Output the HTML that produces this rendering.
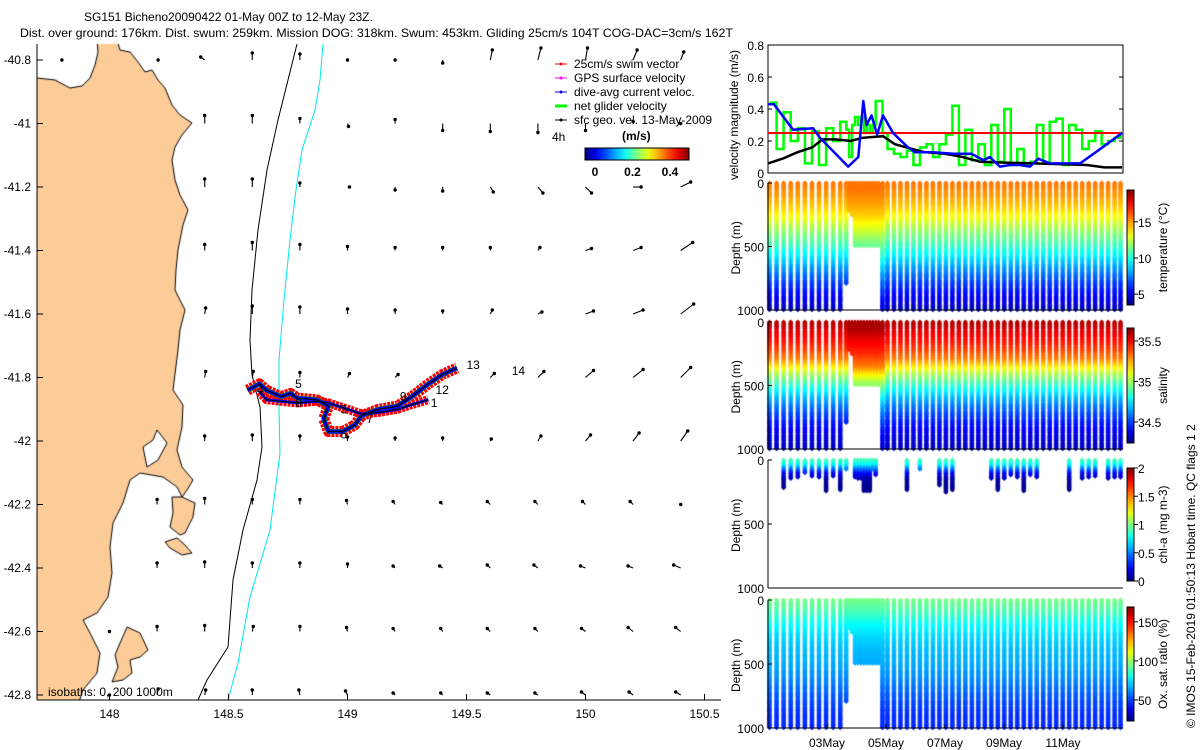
<!DOCTYPE html>
<html><head><meta charset="utf-8">
<style>
html,body{margin:0;padding:0;background:#fff;}
#wrap{position:relative;width:1200px;height:750px;overflow:hidden;font-family:"Liberation Sans",sans-serif;}
svg,canvas{position:absolute;left:0;top:0;}
text{font-family:"Liberation Sans",sans-serif;font-size:12px;fill:#000;}
</style></head>
<body>
<div id="wrap">
<canvas id="cv" width="1200" height="750"></canvas>
<svg id="sv" width="1200" height="750" xmlns="http://www.w3.org/2000/svg">
<defs><clipPath id="mc"><rect x="37" y="44" width="684" height="656"/></clipPath></defs>
<g id="mapclip" clip-path="url(#mc)">
<polyline fill="none" stroke="#000" stroke-width="1" points="297,44 288,80 278,120 267,170 258,230 252,290 250,340 252,375 260,407 262,447 257,480 243,530 233,580 228,647 207,680 198,700"/>
<polyline fill="none" stroke="#00e5ee" stroke-width="1" points="323,44 320,80 315,110 302,150 296,190 290,240 284,300 279,360 279,410 280,453 270,530 250,597 238,663 228,700"/>
<g id="arrowLayer"></g>
<g id="trackLayer"></g>
</g>
</svg>
</div>
<script>
// ---------------- DATA ----------------
const trackLon=[148.58,148.63,148.66,148.72,148.76,148.79,148.87,148.92,148.90,148.92,148.98,149.03,149.06,149.13,149.21,149.27,149.34,149.40,149.46];
const trackLat=[-41.84,-41.82,-41.84,-41.86,-41.85,-41.865,-41.87,-41.89,-41.93,-41.97,-41.97,-41.95,-41.92,-41.90,-41.89,-41.86,-41.82,-41.79,-41.77];
const track2Lon=[148.63,148.66,148.72,148.79,148.87,148.92,149.06,149.13,149.21,149.27,149.34];
const track2Lat=[-41.845,-41.87,-41.875,-41.88,-41.875,-41.88,-41.915,-41.91,-41.90,-41.885,-41.87];
const diveLabels=['1','3','4','5','6','7','8','9','12','13','14'];
const diveLabelLon=[149.35,148.97,148.62,148.78,148.97,149.08,148.78,149.22,149.37,149.50,149.69];
const diveLabelLat=[-41.88,-41.90,-41.84,-41.82,-41.98,-41.93,-41.88,-41.86,-41.84,-41.76,-41.78];
const gridLon=[147.8,148.0,148.2,148.4,148.6,148.8,149.0,149.2,149.4,149.6,149.8,150.0,150.2,150.4];
const gridLat=[-40.8,-41.0,-41.2,-41.4,-41.6,-41.8,-42.0,-42.2,-42.4,-42.6,-42.8];
const gridU=[
[0,0,0.01,-0.04,0,0,0,0,0,0.02,0.03,0.02,0.04,0.03],
[0,0,0,0,0,0,0.01,0,0,0,0,0,0,0],
[0,0,0,0,0,0,0.02,0,0,0.03,0.05,0.06,0.08,0.1],
[0,0,0,0,0,0,0,0,0,0,0.02,0.06,0.08,0.12],
[0,0,0,0.01,0,0,0,0,0,0.02,0.04,0.08,0.1,0.13],
[0,0,0,0.01,0.01,0,0.02,0.03,0.03,0.04,0.06,0.08,0.1,0.1],
[0,0,0,0,0,0,0,0,0,0.01,0.03,0.05,0.06,0.07],
[0,0,0,0,0,0,-0.01,-0.02,-0.02,-0.03,-0.03,-0.03,-0.03,0],
[0,0,0,0,0,0,0,-0.02,-0.03,-0.03,-0.04,-0.05,-0.05,-0.07],
[0,0,0,0,0.01,0,-0.01,-0.02,-0.02,-0.03,-0.03,-0.04,-0.05,-0.05],
[0,0,0.01,0.01,0,-0.01,-0.02,-0.02,-0.02,-0.03,-0.03,-0.04,-0.04,-0.05]];
const gridV=[
[0,0,0,0.03,0.07,0.06,0,0,-0.03,0.1,0.12,0.12,0.1,0.08],
[0,0,0.04,0.08,0.08,0.05,-0.03,0.04,-0.07,-0.08,-0.09,-0.07,0.02,0],
[0,0,0.05,0.08,0.08,0.04,0,-0.03,-0.04,-0.05,-0.06,-0.06,0,0.05],
[0,0,0.05,0.06,0.08,0.06,0.04,0.03,0.03,0.03,0.03,0.02,0.03,0.08],
[0,0,0.05,0.06,0.08,0.07,0.05,0.04,0.03,0.04,0.02,0.03,0.04,0.1],
[0,0,0.06,0.06,0.06,0.05,0.04,0.03,0.03,0.04,0.06,0.07,0.08,0.1],
[0,0,0.05,0.05,0.06,0.05,0.04,0.03,0.03,0.02,0.05,0.06,0.08,0.1],
[0,0,0.05,0.06,0.05,0.05,0.04,0.03,0.02,0.03,0.03,0.03,0.03,0],
[0,0,0.05,0.06,0.05,0.05,0.04,0.02,0.02,0.03,0.03,0.02,0.02,0.03],
[0,0,0.05,0.06,0.05,0.05,0.04,0.03,0.03,0.03,0.03,0.03,0.04,0.04],
[0,0,0.06,0.05,0.05,0.05,0.04,0.02,0.02,0.02,0.02,0.03,0.03,0.03]];
const swimSpeed=0.25;
const geoDay=[1.0,1.5,2.0,2.5,2.85,3.3,3.8,4.2,4.9,5.3,5.7,6.3,7.0,7.6,8.2,9.0,10.0,11.0,11.8,12.4,13.0];
const geoVal=[0.06,0.09,0.13,0.16,0.21,0.21,0.20,0.22,0.23,0.18,0.16,0.13,0.12,0.10,0.07,0.065,0.06,0.055,0.05,0.035,0.035];
const dacDay=[1.0,1.2,1.85,2.53,2.76,3.72,4.06,4.23,4.34,4.51,4.7,4.9,5.24,5.69,5.97,6.6,7.28,7.9,8.3,8.52,8.86,9.2,9.54,9.88,10.16,10.56,11.58,12.26,12.71,13.0];
const dacVal=[0.43,0.43,0.27,0.28,0.22,0.04,0.10,0.45,0.30,0.36,0.24,0.36,0.25,0.17,0.13,0.13,0.12,0.12,0.08,0.10,0.04,0.05,0.05,0.04,0.09,0.06,0.06,0.15,0.21,0.25];
const diveDay=[1.05,1.29,1.53,1.77,2.01,2.25,2.49,2.73,2.97,3.21,3.45,3.65,3.75,3.85,3.95,4.05,4.15,4.25,4.35,4.45,4.55,4.65,4.75,4.88,5.05,5.27,5.49,5.71,5.93,6.15,6.37,6.59,6.81,7.03,7.25,7.47,7.69,7.91,8.13,8.35,8.57,8.79,9.01,9.23,9.45,9.67,9.89,10.11,10.33,10.55,10.77,10.99,11.21,11.43,11.65,11.87,12.09,12.31,12.53,12.75,12.95];
const diveMaxDepth=[1000,1000,1000,1000,1000,1000,1000,1000,1000,1000,1000,800,220,260,500,500,500,500,500,500,500,500,500,1000,1000,1000,1000,1000,1000,1000,1000,1000,1000,1000,1000,1000,1000,1000,1000,1000,1000,1000,1000,1000,1000,1000,1000,1000,1000,1000,1000,1000,1000,1000,1000,1000,1000,1000,1000,1000,1000];
const netVel=[0.44,0.15,0.38,0.2,0.28,0.06,0.26,0.05,0.28,0.2,0.32,0.27,0.1,0.3,0.35,0.3,0.35,0.25,0.3,0.25,0.3,0.45,0.45,0.25,0.15,0.12,0.1,0.14,0.05,0.16,0.18,0.1,0.18,0.24,0.42,0.05,0.27,0.08,0.18,0.05,0.3,0.07,0.4,0.05,0.15,0.05,0.07,0.3,0.06,0.32,0.34,0.05,0.3,0.27,0.15,0.2,0.26,0.18,0.2,0.22,0.25];
const chlDepth=[0,0,220,150,140,100,130,140,250,130,240,80,0,0,140,150,150,250,250,250,80,120,0,0,0,0,0,240,0,80,0,0,200,260,240,0,0,0,0,0,150,240,150,120,140,250,120,140,0,0,0,0,240,0,150,140,130,0,150,140,140];
const profDepth=[0,100,200,300,400,500,600,700,800,900,1000];
const tempProf=[15.6,15.0,14.2,13.0,11.6,10.4,9.0,7.6,6.4,5.4,4.5];
const salProf=[35.6,35.5,35.42,35.3,35.05,34.85,34.68,34.55,34.45,34.38,34.33];
const oxProf=[95,88,78,72,68,66,62,57,52,48,47];
const chlProfDepth=[0,40,80,120,160,260];
const chlProf=[0.9,0.75,0.45,0.2,0.06,0.02];
const coastMain=[[30,78],[37,78],[55,80],[70,88],[82,86],[90,78],[95,65],[98,52],[97,40],[117,40],[120,50],[130,52],[138,62],[145,72],[152,70],[158,80],[165,88],[172,105],[180,115],[192,123],[182,135],[175,147],[172,160],[175,180],[180,195],[188,210],[183,225],[178,250],[176,270],[175,290],[185,310],[180,330],[178,350],[173,390],[183,405],[182,427],[177,450],[182,467],[193,480],[187,490],[182,497],[177,487],[163,477],[140,473],[130,480],[123,503],[113,523],[110,547],[112,573],[108,597],[97,613],[83,620],[90,633],[100,653],[97,673],[83,690],[78,705],[30,705]];
const coastInlet=[[157,430],[167,443],[158,460],[147,467],[143,447],[153,440]];
const coastPen=[[182,497],[195,503],[193,517],[185,533],[180,535],[170,527],[173,513],[172,497]];
const coastSch=[[165,542],[177,538],[185,545],[192,553],[182,555],[170,548]];
const coastMaria=[[127,627],[140,633],[148,650],[140,657],[130,660],[132,673],[123,680],[112,682],[118,667],[115,655],[120,643]];
// ---------------- HELPERS ----------------
const S=document.getElementById('sv');const NS='http://www.w3.org/2000/svg';
function el(tag,attrs,parent){const e=document.createElementNS(NS,tag);for(const k in attrs)e.setAttribute(k,attrs[k]);(parent||S).appendChild(e);return e;}
function txt(x,y,s,attrs,parent){const t=el('text',Object.assign({x:x,y:y},attrs||{}),parent);t.textContent=s;return t;}
function jet(v){v=Math.max(0,Math.min(1,v));const r=Math.max(0,Math.min(1,1.5-Math.abs(4*v-3))),g=Math.max(0,Math.min(1,1.5-Math.abs(4*v-2))),b=Math.max(0,Math.min(1,1.5-Math.abs(4*v-1)));return 'rgb('+Math.round(r*255)+','+Math.round(g*255)+','+Math.round(b*255)+')';}
function interp(xs,ys,x){if(x<=xs[0])return ys[0];for(let i=1;i<xs.length;i++){if(x<=xs[i]){const f=(x-xs[i-1])/(xs[i]-xs[i-1]);return ys[i-1]+f*(ys[i]-ys[i-1]);}}return ys[ys.length-1];}
const MX0=37,MX1=721,MY0=44,MY1=700;
const lonX=lon=>109.5+(lon-148)*238;
const latY=lat=>60+(-40.8-lat)*317.5;
const defs=S.querySelector('defs');
const ctx=document.getElementById('cv').getContext('2d');
// ---------------- LAND (canvas) ----------------
function polyPath(pts){const p=new Path2D();pts.forEach((q,i)=>{if(i)p.lineTo(q[0],q[1]);else p.moveTo(q[0],q[1]);});p.closePath();return p;}
const mainPath=polyPath(coastMain);
ctx.save();ctx.beginPath();ctx.rect(MX0,MY0,MX1-MX0,MY1-MY0);ctx.clip();
ctx.lineWidth=1;ctx.strokeStyle='#000';
[[coastMain,'#fccc98'],[coastInlet,'#fff'],[coastPen,'#fccc98'],[coastSch,'#fccc98'],[coastMaria,'#fccc98']].forEach(a=>{const p=polyPath(a[0]);ctx.fillStyle=a[1];ctx.fill(p);ctx.stroke(p);});
ctx.restore();
// ---------------- TITLE ----------------
let t=txt(84,21,'SG151 Bicheno20090422 01-May 00Z to 12-May 23Z.',{});
t=txt(20,37,'Dist. over ground: 176km. Dist. swum: 259km. Mission DOG: 318km. Swum: 453km. Gliding 25cm/s 104T COG-DAC=3cm/s 162T',{textLength:713,lengthAdjust:'spacingAndGlyphs'});
// ---------------- MAP ----------------
const arrows=document.getElementById('arrowLayer');
for(let r=0;r<gridLat.length;r++)for(let c=0;c<gridLon.length;c++){const x=lonX(gridLon[c]),y=latY(gridLat[r]);
if(ctx.isPointInPath(mainPath,x,y))continue;
const u=gridU[r][c],v=gridV[r][c];const x2=x+u*100,y2=y-v*100;
const a=el('g',{},arrows);


el('line',{x1:x,y1:y,x2:x2,y2:y2,stroke:'#000','stroke-width':1.1},a);el('circle',{cx:x2,cy:y2,r:1.7,fill:'#000'},a);}
function trackPts(lo,la){return lo.map((v,i)=>lonX(v).toFixed(1)+','+latY(la[i]).toFixed(1)).join(' ');}
const tg=document.getElementById('trackLayer');let p;
p=el('polyline',{points:trackPts(trackLon,trackLat),fill:'none',stroke:'#f00','stroke-width':11,'stroke-linejoin':'round','stroke-dasharray':'3 1'},tg);
p=el('polyline',{points:trackPts(track2Lon,track2Lat),fill:'none',stroke:'#f00','stroke-width':9,'stroke-linejoin':'round','stroke-dasharray':'3 1'},tg);
p=el('polyline',{points:trackPts(trackLon,trackLat),fill:'none',stroke:'#0a0','stroke-width':5,'stroke-linejoin':'round'},tg);
p=el('polyline',{points:trackPts(trackLon,trackLat),fill:'none',stroke:'#00f','stroke-width':4,'stroke-linejoin':'round'},tg);
p=el('polyline',{points:trackPts(track2Lon,track2Lat),fill:'none',stroke:'#00f','stroke-width':3,'stroke-linejoin':'round'},tg);
p=el('polyline',{points:trackPts(trackLon,trackLat),fill:'none',stroke:'#000','stroke-width':1.3},tg);
p=el('polyline',{points:trackPts(track2Lon,track2Lat),fill:'none',stroke:'#000','stroke-width':1.2},tg);
diveLabels.forEach((s,i)=>{const l=txt(lonX(diveLabelLon[i]),latY(diveLabelLat[i])+4,s,{},tg);

});
const map=el('g',{});
el('line',{x1:MX0,y1:MY0,x2:MX0,y2:MY1,stroke:'#000'},map);el('line',{x1:MX0,y1:MY1,x2:MX1,y2:MY1,stroke:'#000'},map);
const lonTicks=[148,148.5,149,149.5,150,150.5];const lonTickLabels=['148','148.5','149','149.5','150','150.5'];
lonTicks.forEach((v,i)=>{const x=lonX(v);el('line',{x1:x,y1:MY1,x2:x,y2:MY1-6,stroke:'#000'},map);const l=txt(x,718,lonTickLabels[i],{'text-anchor':'middle'},map);

});
const latTicks=[-40.8,-41,-41.2,-41.4,-41.6,-41.8,-42,-42.2,-42.4,-42.6,-42.8];const latTickLabels=['-40.8','-41','-41.2','-41.4','-41.6','-41.8','-42','-42.2','-42.4','-42.6','-42.8'];
latTicks.forEach((v,i)=>{const y=latY(v);el('line',{x1:MX0,y1:y,x2:MX0+6,y2:y,stroke:'#000'},map);const l=txt(31,y+4,latTickLabels[i],{'text-anchor':'end'},map);

});
t=txt(48,696,'isobaths: 0,  200  1000m',{});
const lg=el('g',{});
const legC=['#f00','#f0f','#00f','#0f0','#000'],legT=['25cm/s swim vector','GPS surface velocity','dive-avg current veloc.','net glider velocity','sfc geo. vel. 13-May-2009'];
legC.forEach((c,i)=>{const y=67+i*14;const e=el('g',{},lg);


el('line',{x1:555,y1:y-3,x2:567,y2:y-3,stroke:c,'stroke-width':i==3?3:1},e);el('circle',{cx:561,cy:y-3,r:1.5,fill:c},e);txt(574,y+1,legT[i],{},e);});
t=txt(552,141,'4h',{});
t=txt(622,140,'(m/s)',{'font-weight':'bold'});
const cbg=el('linearGradient',{id:'jetg',x1:0,x2:1,y1:0,y2:0},defs);for(let k=0;k<=10;k++)el('stop',{offset:k/10,'stop-color':jet(k/10)},cbg);
t=el('rect',{x:585,y:148,width:104,height:12,fill:'url(#jetg)',stroke:'#000'});
['0','0.2','0.4'].forEach((s,i)=>{const l=txt(595+i*37.5,176,s,{'text-anchor':'middle','font-weight':'bold'});

});
// ---------------- RIGHT PANELS ----------------
const PX0=768,PX1=1123;const dayX=d=>768+(d-1)*29.5;
const vy=v=>173-v*160;
const vp=el('g',{});
el('rect',{x:PX0,y:45,width:PX1-PX0,height:128,fill:'none',stroke:'#000'},vp);
[0,0.2,0.4,0.6,0.8].forEach(v=>{el('line',{x1:PX0,y1:vy(v),x2:PX0+4,y2:vy(v),stroke:'#000'},vp);el('line',{x1:PX1,y1:vy(v),x2:PX1-4,y2:vy(v),stroke:'#000'},vp);const l=txt(764,vy(v)+5,String(v),{'text-anchor':'end','font-size':'13'},vp);

});
let gp='';diveDay.forEach((d,i)=>{if(i>=netVel.length)return;const x=dayX(d),x2=dayX(i+1<diveDay.length?diveDay[i+1]:13.0);gp+=(i?'L':'M')+x.toFixed(1)+','+vy(netVel[i]).toFixed(1)+'L'+x2.toFixed(1)+','+vy(netVel[i]).toFixed(1);});
p=el('path',{d:gp,fill:'none',stroke:'#0f0','stroke-width':2.5},vp);
p=el('line',{x1:dayX(1),y1:vy(swimSpeed),x2:dayX(13),y2:vy(swimSpeed),stroke:'#f00','stroke-width':2},vp);
p=el('polyline',{points:geoDay.map((d,i)=>dayX(d).toFixed(1)+','+vy(geoVal[i]).toFixed(1)).join(' '),fill:'none',stroke:'#000','stroke-width':2.5},vp);
p=el('polyline',{points:dacDay.map((d,i)=>dayX(d).toFixed(1)+','+vy(dacVal[i]).toFixed(1)).join(' '),fill:'none',stroke:'#00f','stroke-width':2.5,'stroke-linejoin':'round'},vp);
t=txt(0,0,'velocity magnitude (m/s)',{transform:'translate(738,180) rotate(-90)','font-size':'13'});
const panels=[
{name:'temperature',y0:183,y1:310,cb:[190,305],vmin:3.5,vmax:19.4,ticks:[5,10,15],tl:['5','10','15'],label:'temperature (°C)'},
{name:'salinity',y0:322,y1:449,cb:[328,443],vmin:34.24,vmax:35.66,ticks:[34.5,35,35.5],tl:['34.5','35','35.5'],label:'salinity'},
{name:'chlorophyll',y0:460,y1:588,cb:[468,581],vmin:0,vmax:2,ticks:[0,0.5,1,1.5,2],tl:['0','0.5','1','1.5','2'],label:'chl-a (mg m-3)'},
{name:'oxygen-saturation',y0:600,y1:728,cb:[607,721],vmin:23,vmax:169,ticks:[50,100,150],tl:['50','100','150'],label:'Ox. sat. ratio (%)'}];
panels.forEach((P,pi)=>{
 const g=el('g',{});
 
 
 const dy=z=>P.y0+z/1000*(P.y1-P.y0);
 diveDay.forEach((d,i)=>{const x=dayX(d);let zmax=diveMaxDepth[i];if(pi==2){zmax=chlDepth[i];if(!zmax)return;}
  for(let z=0;z<=zmax;z+=9){let v;const sh=(d>3.7&&d<4.9?-60:0);if(pi==0)v=interp(profDepth,tempProf,z+sh);else if(pi==1)v=interp(profDepth,salProf,z+sh);else if(pi==2)v=interp(chlProfDepth,chlProf,z);else v=interp(profDepth,oxProf,z);
   ctx.fillStyle=jet((v-P.vmin)/(P.vmax-P.vmin));const y=dy(z);ctx.beginPath();ctx.moveTo(x,y-2.5);ctx.lineTo(x+2.6,y);ctx.lineTo(x,y+2.5);ctx.lineTo(x-2.6,y);ctx.closePath();ctx.fill();}});
 el('line',{x1:PX0,y1:P.y0,x2:PX0,y2:P.y1,stroke:'#000'},g);el('line',{x1:PX0,y1:P.y1,x2:PX1,y2:P.y1,stroke:'#000'},g);
 [[0,'0'],[500,'500'],[1000,'1000']].forEach(a=>{el('line',{x1:PX0,y1:dy(a[0]),x2:PX0+4,y2:dy(a[0]),stroke:'#000'},g);const l=txt(764,dy(a[0])+5,a[1],{'text-anchor':'end','font-size':'13'},g);
  
  });
 const l=txt(0,0,'Depth (m)',{transform:'translate(740,'+((P.y0+P.y1)/2+28)+') rotate(-90)','font-size':'13'},g);
 
 
 const gid='cbg'+pi;const lgd=el('linearGradient',{id:gid,x1:0,x2:0,y1:1,y2:0},defs);for(let k=0;k<=10;k++)el('stop',{offset:k/10,'stop-color':jet(k/10)},lgd);
 const cb=el('rect',{x:1127,y:P.cb[0],width:7,height:P.cb[1]-P.cb[0],fill:'url(#'+gid+')',stroke:'#000'},g);
 
 
 P.ticks.forEach((v,k)=>{const y=P.cb[1]-(v-P.vmin)/(P.vmax-P.vmin)*(P.cb[1]-P.cb[0]);el('line',{x1:1134,y1:y,x2:1138,y2:y,stroke:'#000'},g);const tl=txt(1138,y+5,P.tl[k],{'font-size':'13'},g);
  
  });
 const ct=txt(0,0,P.label,{transform:'translate(1167,'+((P.cb[0]+P.cb[1])/2)+') rotate(-90)','text-anchor':'middle','font-size':'13'},g);
 
 
});
const dateTicks=[3,5,7,9,11],dateLabels=['03May','05May','07May','09May','11May'];
dateTicks.forEach((d,i)=>{el('line',{x1:dayX(d),y1:728,x2:dayX(d),y2:724,stroke:'#000'});const l=txt(dayX(d),747,dateLabels[i],{'text-anchor':'middle','font-size':'13'});

});
t=txt(0,0,'© IMOS 15-Feb-2019 01:50:13 Hobart time. QC flags 1  2',{transform:'translate(1195,728) rotate(-90)','font-size':'13'});
</script>
</body></html>
